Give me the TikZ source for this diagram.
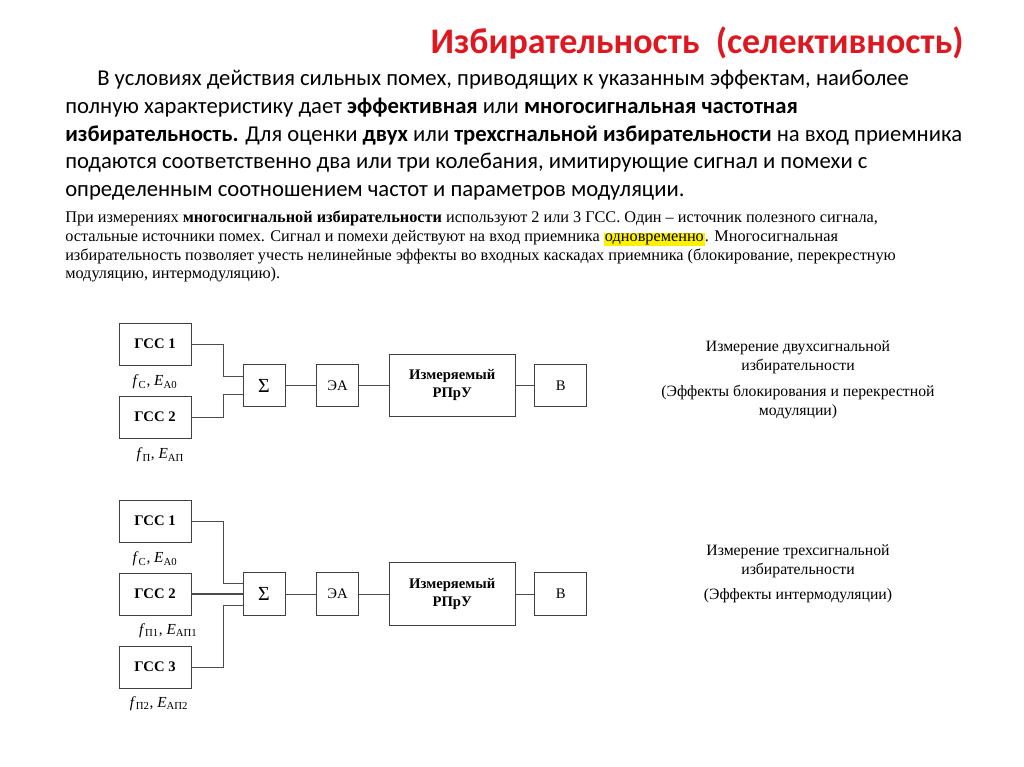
\documentclass[tikz,border=0pt]{standalone}
\usepackage{fontspec}
\setmainfont{Carlito}
\newfontfamily\tnr{Liberation Serif}
\usetikzlibrary{positioning}
\definecolor{titlered}{RGB}{222,24,32}
\definecolor{hlyellow}{RGB}{255,242,0}
\newcommand{\fsub}[2]{\textit{#1}\textsubscript{#2}}
\setlength{\fboxsep}{0.8pt}

\begin{document}
\begin{tikzpicture}[
    x=0.75pt, y=-0.75pt,
    node distance=22.5pt and 22.5pt,
    blk/.style={draw=black!75, line width=0.6pt, inner sep=1pt, font=\tnr\fontsize{11}{13}\selectfont},
    gss/.style={blk, minimum width=54pt, minimum height=31.5pt, font=\tnr\bfseries\fontsize{11}{13}\selectfont},
    sq/.style={blk, minimum width=31.5pt, minimum height=32pt},
    rpr/.style={blk, align=center, minimum width=94.5pt, minimum height=47pt, font=\tnr\bfseries\fontsize{11}{13.5}\selectfont},
    lbl/.style={inner sep=0pt, font=\tnr\fontsize{11.5}{12}\selectfont},
    side/.style={align=center, font=\tnr\fontsize{11.8}{14.2}\selectfont},
    wire/.style={draw=black!70, line width=0.6pt}
]
\useasboundingbox (0,0) rectangle (1024,767);

% heading and text
\node[text=titlered, font=\bfseries\fontsize{27}{30}\selectfont] (title) at (697,43) {Избирательность\ \ (селективность)};
\node[anchor=north west, align=left, inner sep=0pt, font=\fontsize{17}{20.8}\selectfont] (body) at (65,70)
  {\hspace*{24pt}В условиях действия сильных помех, приводящих к указанным эффектам, наиболее\\
   полную характеристику дает \textbf{эффективная} или \textbf{многосигнальная частотная}\\
   \textbf{избирательность.} Для оценки \textbf{двух} или \textbf{трехсгнальной избирательности} на вход приемника\\
   подаются соответственно два или три колебания, имитирующие сигнал и помехи с\\
   определенным соотношением частот и параметров модуляции.};
\node[anchor=north west, align=left, inner sep=0pt, font=\tnr\fontsize{12.2}{14}\selectfont] (note) at (65,211)
  {При измерениях \textbf{многосигнальной избирательности} используют 2 или 3 ГСС. Один – источник полезного сигнала,\\
   остальные источники помех. Сигнал и помехи действуют на вход приемника \colorbox{hlyellow}{одновременно}. Многосигнальная\\
   избирательность позволяет учесть нелинейные эффекты во входных каскадах приемника (блокирование, перекрестную\\
   модуляцию, интермодуляцию).};

% two-signal scheme
\node[gss] (g1a) at (155,344) {ГСС 1};
\node[gss] (g2a) at (155,417) {ГСС 2};
\node[lbl, below=7pt of g1a] (l1a) {\fsub{f}{С},\ \fsub{E}{А0}};
\node[lbl, below=7pt of g2a, xshift=4pt] (l2a) {\fsub{f}{П},\ \fsub{E}{АП}};
\node[sq] (suma) at (264,385.5) {\fontsize{15}{15}\selectfont Σ};
\node[sq, right=23pt of suma] (eaa) {ЭА};
\node[rpr, right=22.5pt of eaa] (rpra) {Измеряемый\\РПрУ};
\node[blk, minimum width=39pt, minimum height=32pt, right=14pt of rpra] (va) {В};
\draw[wire] (g1a.east) -- ++(32,0) |- ([yshift=7pt]suma.west);
\draw[wire] (g2a.east) -- ++(32,0) |- ([yshift=-7pt]suma.west);
\draw[wire] (suma) -- (eaa);
\draw[wire] (eaa) -- (rpra);
\draw[wire] (rpra) -- (va);
\node[side] (t1) at (798,380) {Измерение двухсигнальной\\избирательности\\[5pt](Эффекты блокирования и перекрестной\\модуляции)};

% three-signal scheme
\node[gss] (g1b) at (155,521) {ГСС 1};
\node[gss] (g2b) at (155,594) {ГСС 2};
\node[gss] (g3b) at (155,667) {ГСС 3};
\node[lbl, below=7pt of g1b] (l1b) {\fsub{f}{С},\ \fsub{E}{А0}};
\node[lbl, below=6pt of g2b, xshift=10pt] (l2b) {\fsub{f}{П1},\ \fsub{E}{АП1}};
\node[lbl, below=6pt of g3b, xshift=3pt] (l3b) {\fsub{f}{П2},\ \fsub{E}{АП2}};
\node[sq] (sumb) at (264,594) {\fontsize{15}{15}\selectfont Σ};
\node[sq, right=23pt of sumb] (eab) {ЭА};
\node[rpr, right=22.5pt of eab] (rprb) {Измеряемый\\РПрУ};
\node[blk, minimum width=39pt, minimum height=32pt, right=14pt of rprb] (vb) {В};
\draw[wire] (g1b.east) -- ++(32,0) |- ([yshift=-8pt]sumb.north west);
\draw[wire, line width=1pt] (g2b) -- (sumb);
\draw[wire] (g3b.east) -- ++(32,0) |- ([yshift=8pt]sumb.south west);
\draw[wire] (sumb) -- (eab);
\draw[wire] (eab) -- (rprb);
\draw[wire] (rprb) -- (vb);
\node[side] (t2) at (798,574) {Измерение трехсигнальной\\избирательности\\[5pt](Эффекты интермодуляции)};
\end{tikzpicture}
\end{document}
